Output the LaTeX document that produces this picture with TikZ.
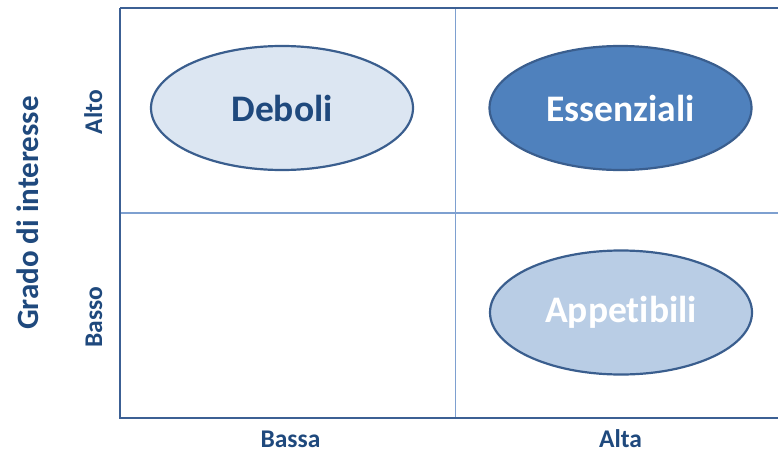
\documentclass[tikz,border=0pt]{standalone}
\usepackage{fontspec}
\setmainfont[Ligatures=NoCommon]{Carlito}
\usetikzlibrary{shapes.geometric}
\definecolor{axisblue}{HTML}{3C6094}
\definecolor{gridblue}{HTML}{7EA0D0}
\definecolor{edgeblue}{HTML}{3A5E8E}
\definecolor{txtblue}{HTML}{1F497D}
\definecolor{lightfill}{HTML}{DCE6F2}
\definecolor{midfill}{HTML}{B9CDE5}
\definecolor{darkfill}{HTML}{4F81BD}
\begin{document}
\begin{tikzpicture}[x=1pt,y=-1pt,
  axisline/.style={draw=axisblue,line width=2.6pt},
  gridline/.style={draw=gridblue,line width=1.1pt},
  cat/.style={ellipse,draw=edgeblue,line width=2.2pt,minimum width=262pt,minimum height=124pt,inner sep=0pt,font=\fontsize{37.5}{42}\selectfont\bfseries},
  axlabel/.style={font=\fontsize{25.5}{30}\selectfont\bfseries,text=txtblue,inner sep=0pt,anchor=base},
  bigl/.style={font=\fontsize{31}{36}\selectfont\bfseries,text=txtblue,inner sep=0pt,anchor=base}
]
\useasboundingbox (0,0) rectangle (778,452);
\coordinate (tl) at (120,8);
\coordinate (bl) at (120,418);
\coordinate (br) at (778,418);
\coordinate (tr) at (778,8);
\coordinate (mt) at (455.5,8);
\coordinate (mb) at (455.5,418);
\coordinate (ml) at (120,213);
\coordinate (mr) at (778,213);
\draw[gridline] (mt) -- (mb);
\draw[gridline] (ml) -- (mr);
\draw[axisline] (tl) -- (tr);
\draw[axisline] (tl) -- (bl) -- (br);
\node[cat,fill=lightfill,text=txtblue] (deb) at (282,108) {Deboli};
\node[cat,fill=darkfill,text=white] (ess) at (620.5,108) {Essenziali};
\node[cat,fill=midfill,text=white] (app) at (621,312.5) {Appetibili};
\node[axlabel] (bassa) at (290.5,447) {Bassa};
\node[axlabel] (alta) at (620.5,447) {Alta};
\node[axlabel,rotate=90] (alto) at (102,112) {Alto};
\node[axlabel,rotate=90] (basso) at (102,317) {Basso};
\node[bigl,rotate=90] (grado) at (38,213) {Grado di interesse};
\end{tikzpicture}
\end{document}
